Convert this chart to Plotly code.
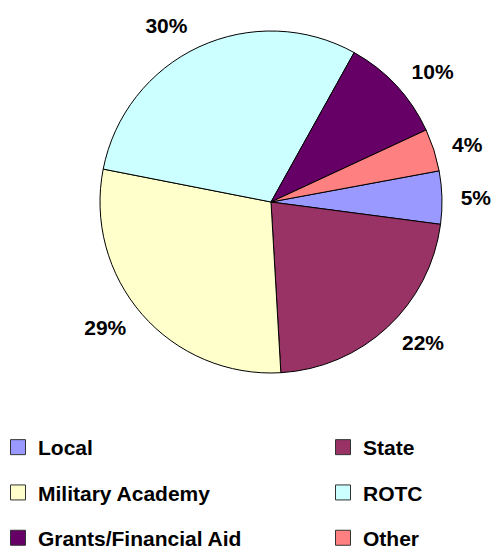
import plotly.graph_objects as go

labels = ["Local", "State", "Military Academy", "ROTC", "Grants/Financial Aid", "Other"]
values = [5, 22, 29, 30, 10, 4]
colors = ["#9999FF", "#993366", "#FFFFCC", "#CCFFFF", "#660066", "#FF8080"]

W, H = 492, 557
FONT = "Liberation Sans, Arial, sans-serif"
CX, CY, R, R_LABEL = 271, 202, 171, 184


def dom(r):
    return dict(x=[(CX - r) / W, (CX + r) / W], y=[1 - (CY + r) / H, 1 - (CY - r) / H])


fig = go.Figure()
# the pie itself
fig.add_trace(go.Pie(
    labels=labels, values=values, sort=False, direction="clockwise",
    rotation=79.5,
    marker=dict(colors=colors, line=dict(color="#000000", width=1)),
    textinfo="none", showlegend=False, hoverinfo="label+percent",
    domain=dom(R),
))
# percentage labels (same slices, slightly larger transparent ring so labels sit further out)
fig.add_trace(go.Pie(
    labels=labels, values=values, sort=False, direction="clockwise",
    rotation=79.5,
    marker=dict(colors=["rgba(0,0,0,0)"] * len(values), line=dict(width=0)),
    texttemplate="%{value}%", textposition="outside",
    textfont=dict(family=FONT, size=21, color="black", weight="bold"),
    showlegend=False, hoverinfo="skip",
    domain=dom(R_LABEL),
))

# legend entries: two columns (left: Local, Military, Grants; right: State, ROTC, Other)
for i, (lab, col) in enumerate(zip(labels, colors)):
    fig.add_trace(go.Scatter(
        x=[None], y=[None], mode="markers", name=lab,
        marker=dict(symbol="square", size=15, color=col, line=dict(color="#333333", width=1)),
        legend="legend" if i % 2 == 0 else "legend2", legendgroup=lab, showlegend=True,
    ))

legend_top = 427
common = dict(orientation="v", xanchor="left", yanchor="top", y=1 - legend_top / H,
              tracegroupgap=15, bgcolor="rgba(0,0,0,0)", borderwidth=0,
              font=dict(family=FONT, size=21, color="black", weight="bold"),
              itemclick=False, itemdoubleclick=False)
fig.update_layout(
    width=W, height=H, margin=dict(l=0, r=0, t=0, b=0, autoexpand=False),
    paper_bgcolor="white", plot_bgcolor="white",
    xaxis=dict(visible=False), yaxis=dict(visible=False),
    legend=dict(x=-2 / W, **common),
    legend2=dict(x=323 / W, **common),
)
fig.write_html("out.html", config={"displayModeBar": False},
               post_script="document.body.style.margin='0';")
